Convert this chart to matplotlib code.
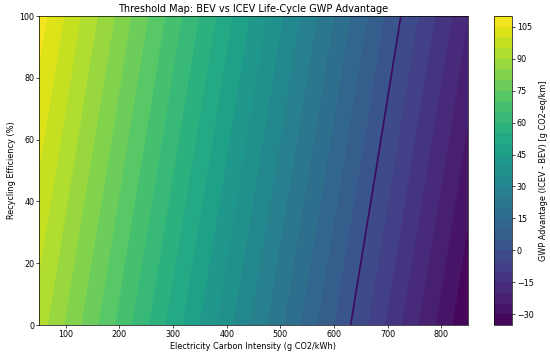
import matplotlib
matplotlib.use('Agg')
import matplotlib.pyplot as plt
import numpy as np

# grid (g CO2-eq/km, ICEV - BEV)
carbon_intensity = [50, 250, 450, 650, 850]      # g CO2/kWh
recycling_eff = [0, 50, 100]                     # %
gwp_adv_r0 = [92.4, 60.6, 28.8, -3.0, -34.8]
gwp_adv_r50 = [99.9, 68.1, 36.3, 4.5, -27.3]
gwp_adv_r100 = [107.3, 75.5, 43.7, 11.9, -19.9]
cbar_ticks = [-30, -15, 0, 15, 30, 45, 60, 75, 90, 105]

X, Y = np.meshgrid(carbon_intensity, recycling_eff)
Z = np.array([gwp_adv_r0, gwp_adv_r50, gwp_adv_r100])

fig = plt.figure(figsize=(5.5, 3.52), dpi=100)
ax = fig.add_axes([0.0709, 0.0767, 0.7800, 0.8778])
cax = fig.add_axes([0.8982, 0.0767, 0.0327, 0.8778])

levels = np.arange(-35, 115, 5)
cf = ax.contourf(X, Y, Z, levels=levels, cmap='viridis')
ax.contour(X, Y, Z, levels=[0], colors='#3b0a5e', linewidths=1.2)

ax.set_xlim(50, 850)
ax.set_ylim(0, 100)
ax.set_xticks([100, 200, 300, 400, 500, 600, 700, 800])
ax.set_yticks([0, 20, 40, 60, 80, 100])
ax.tick_params(labelsize=5.8, length=2, width=0.5, pad=1.5)
for s in ax.spines.values():
    s.set_linewidth(0.5)
ax.set_xlabel('Electricity Carbon Intensity (g CO2/kWh)', fontsize=5.9, labelpad=2)
ax.set_ylabel('Recycling Efficiency (%)', fontsize=5.9, labelpad=2)
ax.set_title('Threshold Map: BEV vs ICEV Life-Cycle GWP Advantage', fontsize=7, pad=3)

cb = fig.colorbar(cf, cax=cax, ticks=cbar_ticks)
cb.ax.tick_params(labelsize=5.8, length=2, width=0.5, pad=1.5)
cb.outline.set_linewidth(0.5)
cb.set_label('GWP Advantage (ICEV - BEV) [g CO2-eq/km]', fontsize=5.9, labelpad=4)

plt.savefig('out.png', dpi=100)
